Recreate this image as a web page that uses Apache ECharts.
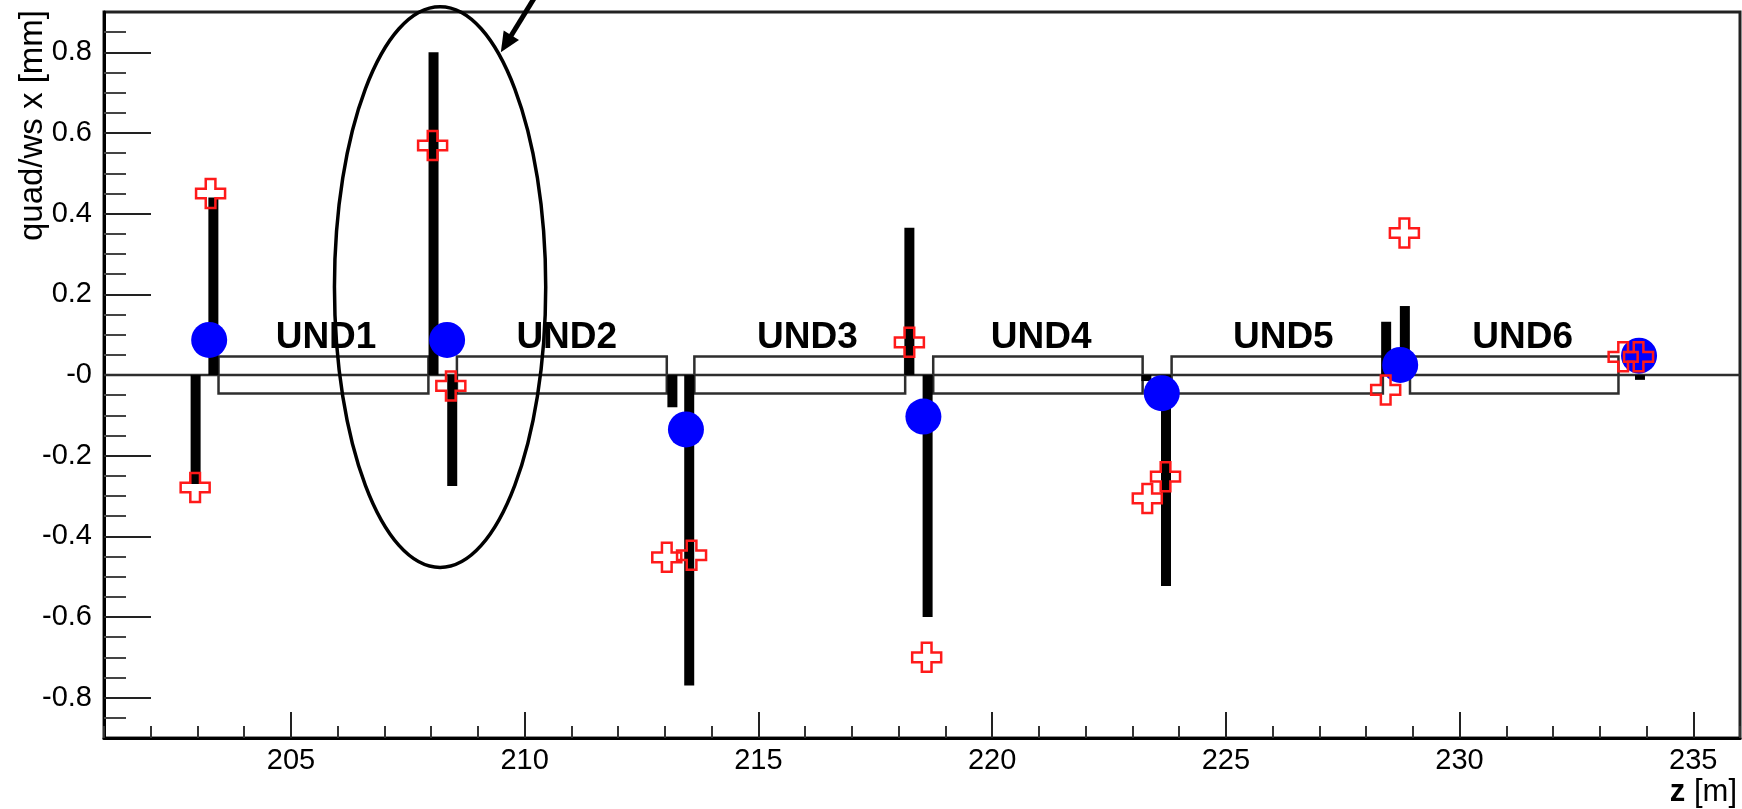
<!DOCTYPE html>
<html>
<head>
<meta charset="utf-8">
<script src="https://cdn.jsdelivr.net/npm/echarts@6/dist/echarts.min.js"></script>
<style>
html,body{margin:0;padding:0;background:#fff;}
#chart{width:1742px;height:809px;}
</style>
</head>
<body>
<div id="chart"></div>
<script>
// ---------- axes ----------
const zRange = [201, 236];
const valRange = [-0.9, 0.9];
const xMajorTicks = [205, 210, 215, 220, 225, 230, 235];
const xMajorLabels = ['205', '210', '215', '220', '225', '230', '235'];
const xMinorTicks = [201, 202, 203, 204, 206, 207, 208, 209, 211, 212, 213, 214, 216, 217, 218, 219,
  221, 222, 223, 224, 226, 227, 228, 229, 231, 232, 233, 234, 236];
const yMajorTicks = [-0.8, -0.6, -0.4, -0.2, 0, 0.2, 0.4, 0.6, 0.8];
const yMajorLabels = ['-0.8', '-0.6', '-0.4', '-0.2', '-0', '0.2', '0.4', '0.6', '0.8'];
const yMinorTicks = [-0.85, -0.75, -0.7, -0.65, -0.55, -0.5, -0.45, -0.35, -0.3, -0.25, -0.15, -0.1, -0.05,
  0.05, 0.1, 0.15, 0.25, 0.3, 0.35, 0.45, 0.5, 0.55, 0.65, 0.7, 0.75, 0.85];
const yTitle = 'quad/ws x [mm]';
const xTitle = '{b|z} [m]';

// ---------- data ----------
const barZ = [202.96, 203.34, 208.05, 208.45, 213.16, 213.52, 218.23, 218.62, 223.30, 223.72, 228.43, 228.83, 233.86];
const barVal = [-0.27, 0.44, 0.80, -0.275, -0.08, -0.77, 0.365, -0.60, -0.015, -0.523, 0.132, 0.171, -0.012];

const fitZ = [203.25, 208.34, 213.45, 218.53, 223.63, 228.73, 233.84];
const fitVal = [0.087, 0.087, -0.135, -0.103, -0.045, 0.025, 0.048];

const measZ = [202.95, 203.28, 208.03, 208.42, 213.04, 213.57, 218.23, 218.60, 223.32, 223.71, 228.42, 228.82, 233.50, 233.83];
const measVal = [-0.279, 0.45, 0.569, -0.027, -0.452, -0.447, 0.081, -0.70, -0.306, -0.252, -0.037, 0.352, 0.045, 0.045];

const undNames = ['UND1', 'UND2', 'UND3', 'UND4', 'UND5', 'UND6'];
const undStart = [203.45, 208.55, 213.63, 218.74, 223.84, 228.94];
const undEnd = [207.94, 213.04, 218.14, 223.22, 228.36, 233.40];
const undHalfHeight = [0.046, 0.046, 0.046, 0.046, 0.046, 0.046];
const undLabelZ = [205.75, 210.9, 216.05, 221.05, 226.23, 231.35];
const undLabelVal = [0.093, 0.093, 0.093, 0.093, 0.093, 0.093];

const zeroLineZ = [201, 236];
const zeroLineVal = [0, 0];

const ellipseCenter = [208.19, 0.218];
const ellipseRadii = [2.26, 0.695];
const arrowFrom = [210.26, 0.945];
const arrowTo = [209.49, 0.80];

// ---------- build ----------
const FONT = '"Liberation Sans", Arial, Helvetica, sans-serif';
const chart = echarts.init(document.getElementById('chart'));

const axisCommonX = {
  type: 'value', min: zRange[0], max: zRange[1], position: 'bottom', gridIndex: 0,
  splitLine: { show: false }
};
const axisCommonY = {
  type: 'value', min: valRange[0], max: valRange[1], position: 'left', gridIndex: 0,
  splitLine: { show: false }
};

const option = {
  animation: false,
  backgroundColor: '#fff',
  grid: {
    left: 104, right: 2, top: 12, bottom: 71,
    show: true, borderColor: '#222', borderWidth: 3, backgroundColor: 'transparent'
  },
  xAxis: [
    Object.assign({}, axisCommonX, {
      axisLine: { show: true, onZero: false, lineStyle: { color: '#000', width: 3 } },
      axisTick: { show: true, inside: true, length: 26, customValues: xMajorTicks, lineStyle: { color: '#222', width: 2 } },
      axisLabel: {
        show: true, customValues: xMajorTicks, margin: 8, color: '#000', fontSize: 29, fontFamily: FONT,
        formatter: v => { const i = xMajorTicks.indexOf(v); return i >= 0 ? xMajorLabels[i] : ''; }
      }
    }),
    Object.assign({}, axisCommonX, {
      axisLine: { show: false, onZero: false },
      axisTick: { show: true, inside: true, length: 12, customValues: xMinorTicks, lineStyle: { color: '#333', width: 2 } },
      axisLabel: { show: false }
    })
  ],
  yAxis: [
    Object.assign({}, axisCommonY, {
      axisLine: { show: true, onZero: false, lineStyle: { color: '#000', width: 3 } },
      axisTick: { show: true, inside: true, length: 47, customValues: yMajorTicks, lineStyle: { color: '#222', width: 2 } },
      axisLabel: {
        show: true, customValues: yMajorTicks, margin: 12, color: '#000', fontSize: 29, fontFamily: FONT,
        formatter: v => {
          let i = -1;
          yMajorTicks.forEach((t, k) => { if (Math.abs(t - v) < 1e-9) i = k; });
          return i >= 0 ? yMajorLabels[i] : '';
        }
      }
    }),
    Object.assign({}, axisCommonY, {
      axisLine: { show: false, onZero: false },
      axisTick: { show: true, inside: true, length: 22, customValues: yMinorTicks, lineStyle: { color: '#444', width: 2 } },
      axisLabel: { show: false }
    })
  ],
  series: [
    {
      name: 'zero', type: 'line', silent: true, symbol: 'none',
      data: zeroLineZ.map((z, i) => [z, zeroLineVal[i]]),
      lineStyle: { color: '#2e2e2e', width: 2.5 }, z: 1
    },
    {
      name: 'undulators', type: 'custom', silent: true, z: 2,
      data: undStart.map((s, i) => [s, undEnd[i], undHalfHeight[i]]),
      renderItem: (params, api) => {
        const a = api.coord([api.value(0), api.value(2)]);
        const b = api.coord([api.value(1), -api.value(2)]);
        return {
          type: 'rect',
          shape: { x: a[0], y: a[1], width: b[0] - a[0], height: b[1] - a[1] },
          style: { fill: 'none', stroke: '#2e2e2e', lineWidth: 2.5 }
        };
      }
    },
    {
      name: 'bars', type: 'custom', silent: true, z: 3,
      data: barZ.map((z, i) => [z, barVal[i]]),
      renderItem: (params, api) => {
        const z = api.value(0), v = api.value(1);
        const p0 = api.coord([z, 0]);
        const p1 = api.coord([z, v]);
        const w = 10;
        return {
          type: 'rect',
          shape: { x: p0[0] - w / 2, y: Math.min(p0[1], p1[1]), width: w, height: Math.abs(p1[1] - p0[1]) },
          style: { fill: '#000' }
        };
      }
    },
    {
      name: 'fit', type: 'scatter', silent: true, z: 4,
      symbol: 'circle', symbolSize: 36,
      itemStyle: { color: '#0000ff', opacity: 1 },
      data: fitZ.map((z, i) => [z, fitVal[i]])
    },
    {
      name: 'meas', type: 'scatter', silent: true, z: 5,
      symbol: 'path://M1,0 L2,0 L2,1 L3,1 L3,2 L2,2 L2,3 L1,3 L1,2 L0,2 L0,1 L1,1 Z',
      symbolSize: 29,
      itemStyle: { color: 'rgba(255,255,255,0)', borderColor: '#ff1a1a', borderWidth: 2.5, opacity: 1 },
      data: measZ.map((z, i) => [z, measVal[i]])
    },
    {
      name: 'labels', type: 'custom', silent: true, z: 6,
      data: undLabelZ.map((z, i) => [z, undLabelVal[i]]),
      renderItem: (params, api) => {
        const p = api.coord([api.value(0), api.value(1)]);
        return {
          type: 'text', x: p[0], y: p[1],
          style: {
            text: undNames[params.dataIndex], fill: '#000',
            font: 'bold 37px ' + FONT, align: 'center', verticalAlign: 'middle'
          }
        };
      }
    },
    {
      name: 'ellipse', type: 'custom', silent: true, clip: false, z: 7,
      data: [[ellipseCenter[0], ellipseCenter[1], ellipseRadii[0], ellipseRadii[1]]],
      renderItem: (params, api) => {
        const c = api.coord([api.value(0), api.value(1)]);
        const s = api.size([api.value(2), api.value(3)]);
        return {
          type: 'ellipse',
          shape: { cx: c[0], cy: c[1], rx: s[0], ry: s[1] },
          style: { fill: 'none', stroke: '#000', lineWidth: 3.5 }
        };
      }
    },
    {
      name: 'arrow', type: 'custom', silent: true, clip: false, z: 8,
      data: [[arrowFrom[0], arrowFrom[1], arrowTo[0], arrowTo[1]]],
      renderItem: (params, api) => {
        const p1 = api.coord([api.value(0), api.value(1)]);
        const p2 = api.coord([api.value(2), api.value(3)]);
        const dx = p2[0] - p1[0], dy = p2[1] - p1[1];
        const len = Math.sqrt(dx * dx + dy * dy);
        const ux = dx / len, uy = dy / len;
        const hl = 20, hw = 9;
        const bx = p2[0] - ux * hl, by = p2[1] - uy * hl;
        return {
          type: 'group',
          children: [
            { type: 'line', shape: { x1: p1[0], y1: p1[1], x2: bx + ux * 2, y2: by + uy * 2 },
              style: { stroke: '#000', lineWidth: 5 } },
            { type: 'polygon', shape: { points: [[p2[0], p2[1]], [bx - uy * hw, by + ux * hw], [bx + uy * hw, by - ux * hw]] },
              style: { fill: '#000' } }
          ]
        };
      }
    }
  ],
  graphic: [
    {
      type: 'text', x: 33, y: 10, rotation: Math.PI / 2, silent: true,
      style: { text: yTitle, font: '33px ' + FONT, fill: '#000', align: 'right', verticalAlign: 'middle' }
    },
    {
      type: 'text', x: 1737, y: 792, silent: true,
      style: {
        text: xTitle, fontSize: 31, fontFamily: FONT, fill: '#000', align: 'right', verticalAlign: 'middle',
        rich: { b: { fontSize: 31, fontFamily: FONT, fontWeight: 'bold', fill: '#000' } }
      }
    }
  ]
};
chart.setOption(option);
</script>
</body>
</html>
